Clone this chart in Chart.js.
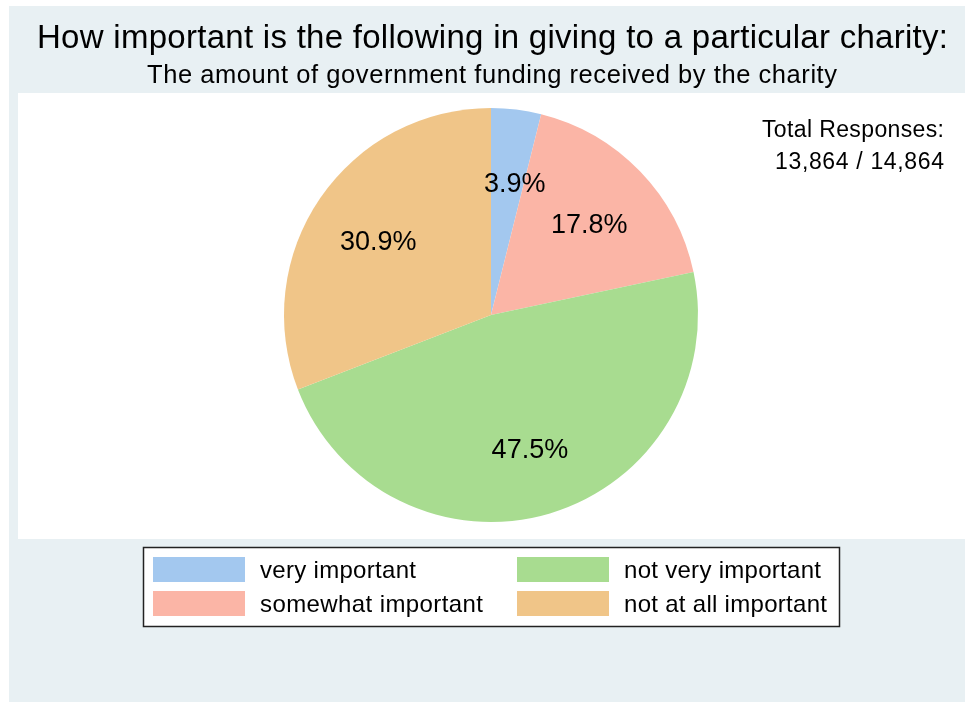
<!DOCTYPE html>
<html><head><meta charset="utf-8">
<script src="https://cdn.jsdelivr.net/npm/chart.js@4"></script>
<style>html,body{margin:0;padding:0;background:#fff}#wrap{width:965px;height:702px;position:relative}</style>
</head><body><div id="wrap"><canvas id="c" width="965" height="702"></canvas></div>
<script>
const categories = ["very important", "somewhat important", "not very important", "not at all important"];
const percents = [3.9, 17.8, 47.5, 30.9];
const colors = ["#a3c8ef", "#fbb5a6", "#a8dc90", "#f0c588"];
const titleText = "How important is the following in giving to a particular charity:";
const subtitleText = "The amount of government funding received by the charity";
const noteLines = ["Total Responses:", "13,864 / 14,864"];
const FONT = "'Liberation Sans', Arial, sans-serif";

// draw text from left x to fit a target width via letter spacing
function fitText(ctx, text, x, y, size, targetW) {
  ctx.font = size + 'px ' + FONT;
  ctx.letterSpacing = '0px';
  const w = ctx.measureText(text).width;
  const ls = text.length > 1 ? (targetW - w) / (text.length - 1) : 0;
  ctx.letterSpacing = ls + 'px';
  ctx.textAlign = 'left';
  ctx.fillText(text, x, y);
  ctx.letterSpacing = '0px';
}

const bgPlugin = {
  id: 'bg',
  beforeDraw(chart) {
    const ctx = chart.ctx;
    ctx.save();
    ctx.fillStyle = '#ffffff';
    ctx.fillRect(0, 0, 965, 702);
    ctx.fillStyle = '#e8f0f3';
    ctx.fillRect(9, 6, 956, 696);
    ctx.fillStyle = '#ffffff';
    ctx.fillRect(18, 93, 947, 446);
    ctx.fillStyle = '#000';
    ctx.textBaseline = 'alphabetic';
    fitText(ctx, titleText, 37, 48, 33, 911);
    fitText(ctx, subtitleText, 147, 83, 25.5, 690);
    fitText(ctx, noteLines[0], 762, 137, 23, 182);
    fitText(ctx, noteLines[1], 775, 169, 23, 169);
    // legend
    ctx.fillStyle = '#fff';
    ctx.fillRect(143, 547, 697, 79);
    ctx.strokeStyle = '#222';
    ctx.lineWidth = 1.5;
    ctx.strokeRect(143.5, 547.5, 696, 79);
    const legW = [156, 223, 197, 203];
    categories.forEach((c, i) => {
      const col = Math.floor(i / 2), row = i % 2;
      const x = 153 + col * 364, y = 557 + row * 34;
      ctx.fillStyle = colors[i];
      ctx.fillRect(x, y, 92, 25);
      ctx.fillStyle = '#000';
      fitText(ctx, c, x + 107, y + 21, 24, legW[i]);
    });
    ctx.restore();
  }
};

const labelPlugin = {
  id: 'lbl',
  afterDatasetsDraw(chart) {
    const ctx = chart.ctx;
    const meta = chart.getDatasetMeta(0);
    ctx.save();
    ctx.fillStyle = '#000';
    ctx.font = '27px ' + FONT;
    ctx.textAlign = 'center';
    ctx.textBaseline = 'middle';
    meta.data.forEach((arc, i) => {
      const p = arc.getProps(['x', 'y', 'startAngle', 'endAngle', 'outerRadius'], true);
      const a = (p.startAngle + p.endAngle) / 2;
      const r = p.outerRadius * 0.66;
      let dx = i === 0 ? 7 : 0;
      ctx.fillText(percents[i].toFixed(1) + '%', p.x + Math.cos(a) * r + dx, p.y + Math.sin(a) * r + 5);
    });
    ctx.restore();
  }
};

new Chart(document.getElementById('c'), {
  type: 'pie',
  data: { labels: categories, datasets: [{ data: percents, backgroundColor: colors, borderWidth: 0 }] },
  options: {
    responsive: false,
    animation: false,
    layout: { padding: { left: 284, right: 267, top: 108, bottom: 180 } },
    plugins: { legend: { display: false }, tooltip: { enabled: false } }
  },
  plugins: [bgPlugin, labelPlugin]
});
</script></body></html>
